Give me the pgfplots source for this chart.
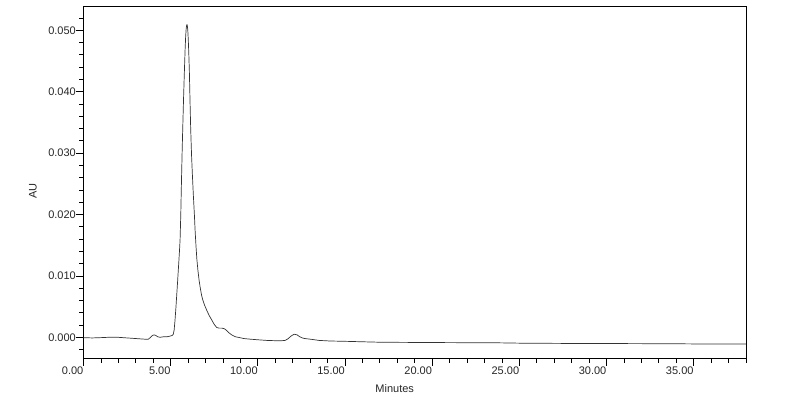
\documentclass[border=0pt]{standalone}
\usepackage{pgfplots}
\pgfplotsset{compat=1.18}
\usepackage{fontspec}
\setmainfont{Liberation Sans}
\begin{document}
\begin{tikzpicture}
\path[use as bounding box] (-83.5pt,-44pt) rectangle (716.5pt,359pt);
\begin{axis}[
  at={(0pt,0pt)}, anchor=south west,
  width=662.5pt, height=352.3pt, scale only axis,
  xmin=0, xmax=38, ymin=-0.00353, ymax=0.05385,
  axis line style={line width=1pt},
  x axis line style={gray},
  y axis line style={black},
  tick align=outside,
  xtick pos=left, ytick pos=left,
  major tick length=7pt, minor tick length=4pt,
  every tick/.style={black, line width=0.8pt},
  xtick={0,5,10,15,20,25,30,35},
  minor xtick={1,2,3,4,6,7,8,9,11,12,13,14,16,17,18,19,21,22,23,24,26,27,28,29,31,32,33,34,36,37,38},
  ytick={0,0.01,0.02,0.03,0.04,0.05},
  minor ytick={-0.002,0.002,0.004,0.006,0.008,0.012,0.014,0.016,0.018,0.022,0.024,0.026,0.028,0.032,0.034,0.036,0.038,0.042,0.044,0.046,0.048,0.052},
  scaled y ticks=false, scaled x ticks=false,
  /pgf/number format/assume math mode=true,
  tick label style={font=\fontsize{11}{13}\selectfont, black!85},
  xticklabel style={/pgf/number format/.cd, fixed, fixed zerofill, precision=2, /tikz/.cd, anchor=north east, inner sep=0.5pt, xshift=0.5pt},
  yticklabel style={/pgf/number format/.cd, fixed, fixed zerofill, precision=3, /tikz/.cd, anchor=east, inner sep=0.5pt},
  clip mode=individual,
]
\addplot[black!80, line width=0.7pt, line join=round] coordinates {
(0.0,-0.00005) (0.5,-0.0001) (1.0,-0.00005) (1.4,0.0000) (2.0,0.0000) (2.5,-0.0001)
(3.0,-0.0002) (3.5,-0.0003) (3.72,-0.0003) (3.85,0.0000) (3.95,0.0003) (4.05,0.0004)
(4.15,0.0003) (4.25,0.0001) (4.39,0.0000) (4.6,0.0001) (4.8,0.0001) (4.97,0.0002)
(5.08,0.0003) (5.15,0.0005) (5.20,0.0012) (5.25,0.0028) (5.30,0.0048) (5.35,0.0070)
(5.40,0.0092) (5.45,0.0115) (5.50,0.0138) (5.54,0.0159) (5.58,0.0200) (5.62,0.0255)
(5.66,0.0305) (5.69,0.0338) (5.74,0.0390) (5.79,0.0436) (5.83,0.0470) (5.86,0.0490)
(5.89,0.0503) (5.92,0.0509) (5.95,0.0509) (5.98,0.0501) (6.01,0.0485) (6.04,0.0462)
(6.07,0.0436) (6.11,0.0385) (6.15,0.0338)
(6.20,0.0295) (6.25,0.0262) (6.30,0.0232) (6.36,0.0200) (6.40,0.0175) (6.45,0.0150)
(6.50,0.0128) (6.56,0.0110) (6.63,0.0093) (6.70,0.0080) (6.77,0.0069) (6.84,0.0061)
(6.95,0.0052) (7.07,0.0044) (7.20,0.0036) (7.36,0.0028) (7.50,0.0021) (7.64,0.0016)
(7.78,0.0015) (7.93,0.0015) (8.08,0.0014) (8.22,0.0011) (8.36,0.0007) (8.50,0.0004)
(8.70,0.0001) (8.88,0.0000) (9.2,-0.0002) (9.56,-0.0003) (10.0,-0.0004) (10.5,-0.0005)
(11.0,-0.00055) (11.3,-0.00057) (11.57,-0.0005) (11.75,-0.0002) (11.9,0.0002)
(12.08,0.0005) (12.25,0.0004) (12.4,0.0001) (12.55,-0.0001) (12.7,-0.0002)
(13.0,-0.0003) (13.5,-0.0005) (14.15,-0.0006) (15.0,-0.00065) (17.0,-0.0008)
(20.0,-0.00085) (23.9,-0.0009) (25.0,-0.00095) (28.0,-0.001) (31.0,-0.00102)
(34.0,-0.00105) (36.0,-0.0011) (38.0,-0.0011)
};
\node[font=\fontsize{11}{13}\selectfont, black!85] at (axis description cs:0.4697,-0.0852) {Minutes};
\node[font=\fontsize{11}{13}\selectfont, black!85, rotate=90] at (axis description cs:-0.0762,0.4769) {AU};
\end{axis}
\end{tikzpicture}
\end{document}
